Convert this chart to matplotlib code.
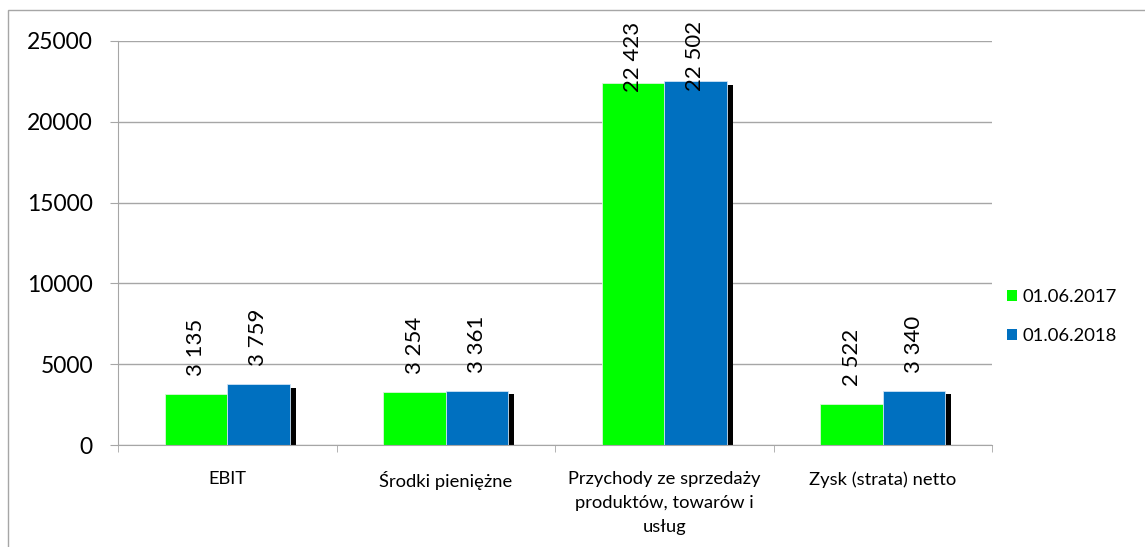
import numpy as np
import matplotlib.pyplot as plt
import matplotlib.patheffects as pe
from matplotlib.patches import Rectangle

# dane z wykresu
categories = ['EBIT', 'Środki pieniężne', 'Przychody ze sprzedaży\nproduktów, towarów i\nusług', 'Zysk (strata) netto']
series_names = ['01.06.2017', '01.06.2018']
values_2017 = [3135, 3254, 22423, 2522]
values_2018 = [3759, 3361, 22502, 3340]
y_ticks = [0, 5000, 10000, 15000, 20000, 25000]

plt.rcParams['font.family'] = ['Lato', 'DejaVu Sans']

W, H = 1145, 547
fig = plt.figure(figsize=(W / 100, H / 100), dpi=100)
ax = fig.add_axes([118 / W, (H - 445) / H, (992 - 118) / W, (445 - 41) / H])

# ramka wykresu (obcięta po prawej i na dole)
fig.patches.append(Rectangle((8 / W, -0.1), 1.2, (H - 10) / H + 0.1, transform=fig.transFigure,
                             fill=False, edgecolor='#a6a6a6', linewidth=1.0))

x = np.arange(len(categories))
bw = 0.285
shadow = [pe.SimplePatchShadow(offset=(4.5, -2.5), shadow_rgbFace='black', alpha=1.0), pe.Normal()]

b1 = ax.bar(x - bw / 2, values_2017, bw, color='#00ff00', edgecolor='#d9f5d9', linewidth=0.6,
            label=series_names[0], zorder=3)
b2 = ax.bar(x + bw / 2, values_2018, bw, color='#0070c0', edgecolor='#cfe3f5', linewidth=0.6,
            label=series_names[1], zorder=4)
for bars in (b1, b2):
    for p in bars:
        p.set_path_effects(shadow)

def fmt(v):
    return f'{v:,}'.replace(',', ' ')

for bars, vals in ((b1, values_2017), (b2, values_2018)):
    for p, v in zip(bars, vals):
        off = -7 if v > 20000 else 13
        ax.annotate(fmt(v), (p.get_x() + p.get_width() / 2, v), xytext=(0, off),
                    textcoords='offset points', rotation=90, ha='center', va='bottom',
                    fontsize=16, zorder=6, annotation_clip=False)

ax.set_xlim(-0.5, len(categories) - 0.5)
ax.set_ylim(0, 25000)
ax.set_yticks(y_ticks)
ax.set_yticklabels([str(t) for t in y_ticks], fontsize=16.5)
ax.tick_params(axis='y', length=6, color='#a6a6a6', pad=12)
ax.grid(axis='y', color='#a6a6a6', linewidth=1.0, zorder=0)

ax.set_xticks(x)
ax.set_xticklabels(categories, fontsize=13.2, linespacing=1.6)
ax.set_xticks(np.arange(len(categories) + 1) - 0.5, minor=True)
ax.tick_params(axis='x', which='major', length=0, pad=19)
ax.tick_params(axis='x', which='minor', length=5, color='#a6a6a6')

for s in ['top', 'right']:
    ax.spines[s].set_visible(False)
for s in ['left', 'bottom']:
    ax.spines[s].set_color('#a6a6a6')
    ax.spines[s].set_zorder(5)

leg = fig.legend(handles=[b1, b2], labels=series_names, loc='upper left',
                 bbox_to_anchor=(990 / W, (H - 272) / H), frameon=False, fontsize=13.3,
                 handlelength=0.55, handleheight=0.55, handletextpad=0.3, labelspacing=1.25)
for h in leg.legend_handles:
    h.set_path_effects([])
    h.set_linewidth(0)

fig.savefig('out.png', dpi=100)
